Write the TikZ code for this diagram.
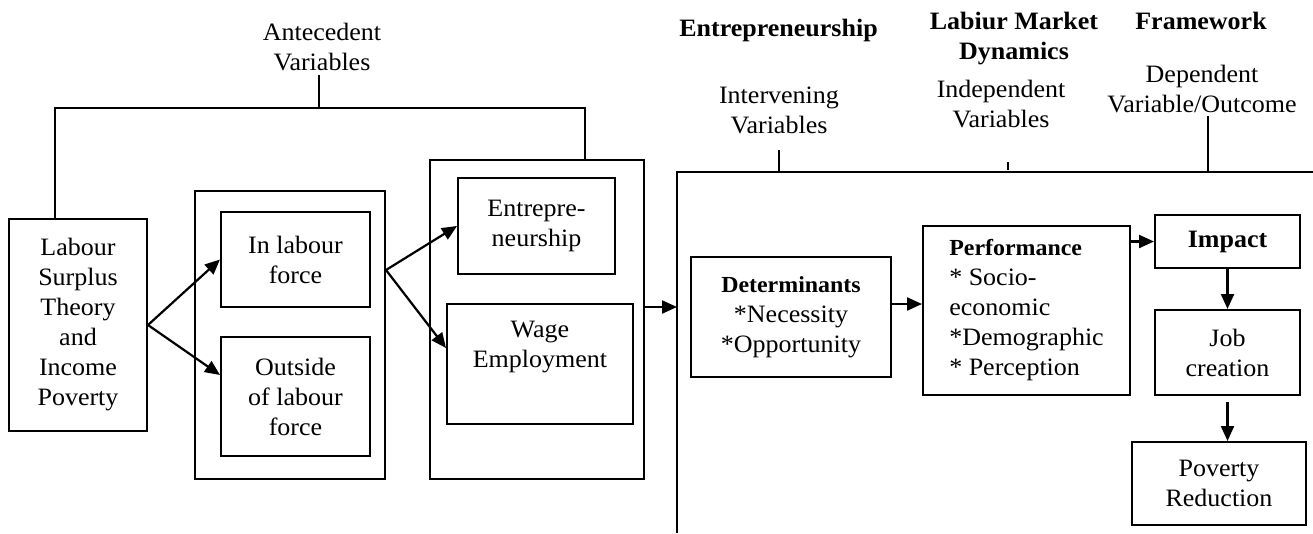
\documentclass[tikz,border=0pt]{standalone}
\usepackage{fontspec}
\setmainfont{Liberation Serif}[FakeStretch=1.04]
\usetikzlibrary{arrows.meta}
\newcommand\boxfont{\fontsize{25}{30}\selectfont}
\newcommand\headbf[1]{{\fontsize{23}{30}\selectfont\bfseries #1}}

\begin{document}
\begin{tikzpicture}[x=1pt, y=-1pt,
  box/.style={draw, line width=2pt, align=center, inner sep=0pt, font=\boxfont},
  lbl/.style={align=center, inner sep=0pt, font=\boxfont},
  conn/.style={line width=2pt},
  arr/.style={line width=2.2pt, -{Triangle[length=15pt,width=13pt]}}]
\useasboundingbox (0,0) rectangle (1313,533);

% antecedent side
\node[lbl, anchor=north] (antecedent) at (322,23) {Antecedent\\Variables};
\node[box, minimum width=138pt, minimum height=212pt] (labour) at (78,325)
  {Labour\\Surplus\\Theory\\and\\Income\\Poverty};
\node[box, minimum width=190pt, minimum height=288pt] (outer2) at (290,335) {};
\node[box, minimum width=149pt, minimum height=95pt] (inlab) at (295.5,259.5) {In labour\\force};
\node[box, minimum width=149pt, minimum height=119pt] (outlab) at (295.5,396.5) {Outside\\of labour\\force};
\node[box, minimum width=214pt, minimum height=319pt] (outer3) at (537,319.5) {};
\node[box, minimum width=157pt, minimum height=96pt] (entre) at (536.5,226) {Entrepre-\\neurship};
\node[box, minimum width=186pt, minimum height=120pt] (wage) at (540,364) {Wage\\Employment\\\strut};

\coordinate (abar) at (319,108);
\draw[conn] ([xshift=-23pt]labour.north) |- (abar) -| ([xshift=48pt]outer3.north);
\draw[conn] (abar) -- ([yshift=-4pt]abar |- antecedent.south);

\draw[arr] (labour.east) -- (inlab.west);
\draw[arr] (labour.east) -- ([yshift=21.5pt]outlab.west);
\coordinate (split) at ([yshift=65pt]outer2.east);
\draw[arr] (split) -- (entre.west);
\draw[arr] (split) -- ([yshift=16pt]wage.west);

% headings
\node[lbl, anchor=base, font=\boxfont\bfseries] (hent) at (778.5,36) {Entrepreneurship};
\node[lbl, anchor=north, font=\boxfont\bfseries] (hlmd) at (1014,12) {Labiur Market\\Dynamics};
\node[lbl, anchor=base, font=\boxfont\bfseries] (hfw) at (1201,29) {Framework};
\node[lbl, anchor=north] (interv) at (779,87) {Intervening\\Variables};
\node[lbl, anchor=north] (indep) at (1001,80) {Independent\\Variables};
\node[lbl, anchor=north] (dep) at (1202,65) {Dependent\\Variable/Outcome};

% open frame on the right
\coordinate (ftl) at (677,172);
\coordinate (ftr) at (1313,172);
\coordinate (fbl) at (677,533);
\draw[conn] (ftr) -- (ftl) -- (fbl);
\draw[conn] ([yshift=-16pt]interv.south) -- (interv.south |- ftl);
\draw[conn] ([xshift=7pt,yshift=-34pt]indep.south) -- ([xshift=7pt,yshift=-42pt]indep.south);
\draw[conn] ([xshift=6pt,yshift=-3pt]dep.south) -- ([xshift=6pt]dep.south |- ftl);

% entrepreneurship side
\node[box, minimum width=200pt, minimum height=120pt] (det) at (791,317)
  {\headbf{Determinants}\\{}*Necessity\\{}*Opportunity};
\node[box, align=left, minimum width=207pt, minimum height=169pt] (perf) at (1026.5,310.5)
  {\headbf{Performance}\\{}* Socio-\\economic\\{}*Demographic\\{}* Perception};
\node[box, minimum width=145pt, minimum height=53pt] (impact) at (1227.5,241.5) {\textbf{Impact}};
\node[box, minimum width=145pt, minimum height=85pt] (job) at (1227.5,352.5) {Job\\creation};
\node[box, minimum width=174pt, minimum height=83pt] (poverty) at (1219,483.5) {Poverty\\Reduction};

\draw[arr] ([yshift=12.5pt]outer3.east) -- ([yshift=12.5pt]outer3.east -| ftl);
\draw[arr] ([yshift=13pt]det.east) -- ([yshift=13pt]det.east -| perf.west);
\draw[arr] (perf.east |- impact.west) -- (impact.west);
\draw[arr] (impact.south) -- (job.north);
\draw[arr] ([yshift=-6pt]job.south) -- (job.south |- poverty.north);
\end{tikzpicture}
\end{document}
